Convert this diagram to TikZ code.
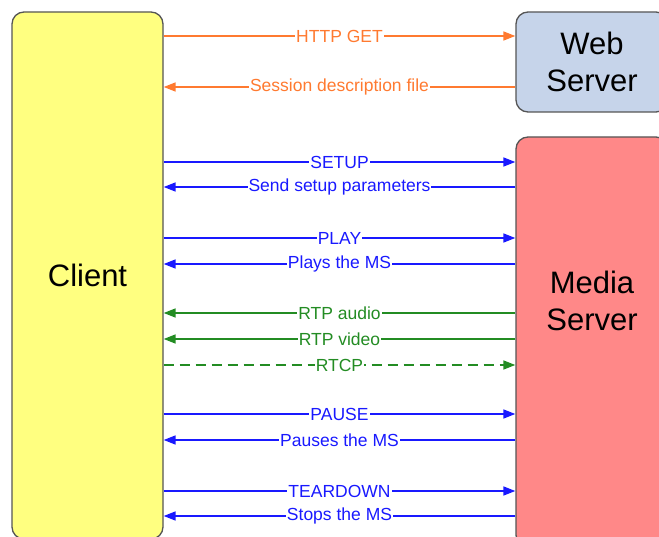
\documentclass[tikz,border=0pt]{standalone}
\usepackage{fontspec}
\setmainfont{Liberation Sans}
\usetikzlibrary{arrows.meta}

\definecolor{httpcol}{RGB}{255,122,48}
\definecolor{rtspcol}{RGB}{25,25,255}
\definecolor{rtpcol}{RGB}{35,140,35}
\definecolor{clientfill}{RGB}{255,255,128}
\definecolor{webfill}{RGB}{198,212,234}
\definecolor{mediafill}{RGB}{255,136,136}
\definecolor{boxline}{RGB}{85,85,85}

\tikzset{
  box/.style={shape=rectangle,draw=boxline,line width=1.3pt,rounded corners=12pt,
              font=\fontsize{31}{37}\selectfont,align=center},
  msg/.style={line width=1.6pt,-{Triangle[length=12pt,width=9pt]}},
  lbl/.style={fill=white,inner sep=1pt,font=\fontsize{17.5}{20}\selectfont}
}

\begin{document}
\begin{tikzpicture}[x=1pt,y=1pt]
    \useasboundingbox (0,0) rectangle (659,-537);
    \clip (0,0) rectangle (659,-537);

        \node[box,fill=clientfill,minimum width=151pt,minimum height=527pt] (A) at (87.5,-275.5) {Client};
        \node[box,fill=webfill,minimum width=152pt,minimum height=100pt] (B) at (592,-62) {Web\\Server};
        \node[box,fill=mediafill,minimum width=152pt,minimum height=410pt,
              label={[font=\fontsize{31}{37}\selectfont,align=center,yshift=41.5pt]center:Media\\Server}] (C) at (592,-342) {};

        %\path [->] (A) edge node {x} (B);
        \path[msg,httpcol] (A.east |- 0,-36) edge node[lbl,text=httpcol] {HTTP GET} (B.west |- 0,-36);
        \path[msg,httpcol] (B.west |- 0,-87) edge node[lbl,text=httpcol] {Session description file} (A.east |- 0,-87);

        \path[msg,rtspcol] (A.east |- 0,-162) edge node[lbl,text=rtspcol] {SETUP} (C.west |- 0,-162);
        \path[msg,rtspcol] (C.west |- 0,-187) edge node[lbl,text=rtspcol] {Send setup parameters} (A.east |- 0,-187);
        \path[msg,rtspcol] (A.east |- 0,-238) edge node[lbl,text=rtspcol] {PLAY} (C.west |- 0,-238);
        \path[msg,rtspcol] (C.west |- 0,-264) edge node[lbl,text=rtspcol] {Plays the MS} (A.east |- 0,-264);

        \path[msg,rtpcol] (C.west |- 0,-313) edge node[lbl,text=rtpcol] {RTP audio} (A.east |- 0,-313);
        \path[msg,rtpcol] (C.west |- 0,-339) edge node[lbl,text=rtpcol] {RTP video} (A.east |- 0,-339);
        \path[msg,rtpcol,dash pattern=on 10pt off 6pt] (A.east |- 0,-365) edge node[lbl,text=rtpcol] {RTCP} (C.west |- 0,-365);

        \path[msg,rtspcol] (A.east |- 0,-414) edge node[lbl,text=rtspcol] {PAUSE} (C.west |- 0,-414);
        \path[msg,rtspcol] (C.west |- 0,-440) edge node[lbl,text=rtspcol] {Pauses the MS} (A.east |- 0,-440);
        \path[msg,rtspcol] (A.east |- 0,-491) edge node[lbl,text=rtspcol] {TEARDOWN} (C.west |- 0,-491);
        \path[msg,rtspcol] (C.west |- 0,-516) edge node[lbl,text=rtspcol] {Stops the MS} (A.east |- 0,-516);
    \end{tikzpicture}
\end{document}
